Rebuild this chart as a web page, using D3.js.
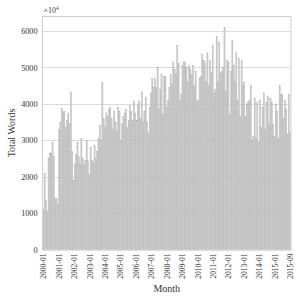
<!DOCTYPE html>
<html>
<head>
<meta charset="utf-8">
<script src="https://cdn.jsdelivr.net/npm/d3@7"></script>
<style>
  body { margin: 0; background: #fff; }
  svg { display: block; }
  text { font-family: "Liberation Serif", "DejaVu Serif", serif; }
</style>
</head>
<body>
<div id="chart"></div>
<script>
// monthly totals, in units of 10^4 words
const years = d3.range(2000, 2016);
const months = [];
years.forEach(y => d3.range(1, 13).forEach(m => {
    if (y < 2015 || m <= 9) months.push(y + "-" + String(m).padStart(2, "0"));
}));

const totals = [
    1100, 2100, 1350, 1050, 2500, 2650, 2650, 2950, 2550, 1400, 1400, 1250,
    3300, 3500, 3880, 3780, 3800, 3350, 3550, 3750, 3450, 4330, 2700, 1900,
    2350, 2600, 2950, 2550, 2350, 3050, 2500, 2300, 2450, 3000, 2450, 2050,
    2800, 2450, 2400, 2850, 2500, 2700, 3050, 3400, 3000, 4600, 3600, 3350,
    3750, 3650, 3850, 3900, 3600, 3300, 3800, 3500, 3250, 3900, 3800, 3000,
    3450, 3650, 3750, 3850, 3350, 3550, 3950, 3800, 3550, 4080, 3750, 3550,
    3950, 4080, 3600, 4330, 3500, 3800, 4170, 3500, 3200, 3900, 4300, 4700,
    4450, 4700, 4450, 5000, 3850, 4400, 4800, 3700, 4750, 4750, 3900, 4100,
    4450, 4800, 4550, 5150, 4950, 4800, 5600, 5100, 4100, 4250, 5050, 5150,
    5150, 5000, 4600, 5050, 4950, 4800, 5050, 4500, 4900, 4050, 4100, 4700,
    4750, 5350, 5200, 5150, 4600, 5400, 4500, 5200, 4850, 5600, 4300, 4400,
    5850, 4600, 5700, 4850, 4900, 5000, 6100, 4350, 5200, 5150, 3700, 4900,
    5750, 5050, 4600, 5400, 4100, 5250, 3650, 5200, 4500, 4600, 3650, 4000,
    4050, 4100, 4500, 3000, 3100, 4150, 3050, 4050, 2950, 4100, 3350, 3900,
    4300, 3300, 4050, 4200, 3450, 4150, 4050, 3450, 3100, 4000, 3800, 3050,
    4500, 4250, 4250, 3600, 4100, 3850, 3150, 4250, 3200
];

const xTickLabels = [
    "2000-01", "2001-01", "2002-01", "2003-01", "2004-01", "2005-01",
    "2006-01", "2007-01", "2008-01", "2009-01", "2010-01", "2011-01",
    "2012-01", "2013-01", "2014-01", "2015-01", "2015-09"
];
const yTicks = [0, 1000, 2000, 3000, 4000, 5000, 6000];

const width = 303, height = 297;
const margin = { top: 16.5, right: 12, bottom: 47.5, left: 42.5 };

const svg = d3.select("#chart").append("svg").attr("width", width).attr("height", height);

const x = d3.scaleBand().domain(months).range([margin.left, width - margin.right]).paddingInner(0.12).paddingOuter(0.2);
const y = d3.scaleLinear().domain([0, 6400]).range([height - margin.bottom, margin.top]);

// evenly spaced tick positions from first to last bar
const tickPos = d3.scaleLinear()
    .domain([0, xTickLabels.length - 1])
    .range([x(months[0]) + x.bandwidth() / 2, x(months[months.length - 1]) + x.bandwidth() / 2]);

// grid
svg.append("g")
    .selectAll("line")
    .data(yTicks)
    .join("line")
    .attr("x1", margin.left).attr("x2", width - margin.right)
    .attr("y1", d => Math.round(y(d)) + 0.5).attr("y2", d => Math.round(y(d)) + 0.5)
    .attr("stroke", "#dcdcdc")
    .attr("stroke-width", 1);

// bars
svg.append("g")
    .selectAll("rect")
    .data(totals)
    .join("rect")
    .attr("x", (d, i) => x(months[i]))
    .attr("y", d => y(d))
    .attr("width", x.bandwidth())
    .attr("height", d => y(0) - y(d))
    .attr("fill", "#cdcdcd")
    .attr("stroke", "#a9a9a9")
    .attr("stroke-width", 0.3);

// frame
svg.append("rect")
    .attr("x", margin.left).attr("y", margin.top)
    .attr("width", width - margin.right - margin.left)
    .attr("height", height - margin.bottom - margin.top)
    .attr("fill", "none")
    .attr("stroke", "#cfcfcf")
    .attr("stroke-width", 1);

// y axis
const yAxis = svg.append("g")
    .attr("transform", `translate(${margin.left},0)`)
    .call(d3.axisLeft(y).tickValues(yTicks).tickSize(0).tickPadding(5).tickFormat(d3.format("d")));
yAxis.select(".domain").remove();
yAxis.selectAll("text").attr("font-size", 8.2).attr("fill", "#333")
    .attr("font-family", "'Liberation Serif', serif");

// x axis
const xAxis = svg.append("g")
    .attr("transform", `translate(0,${height - margin.bottom})`)
    .call(d3.axisBottom(tickPos).tickValues(d3.range(xTickLabels.length)).tickSize(0).tickFormat(i => xTickLabels[i]));
xAxis.select(".domain").remove();
xAxis.selectAll("text")
    .attr("font-size", 7.6)
    .attr("fill", "#333")
    .attr("font-family", "'Liberation Serif', serif")
    .attr("text-anchor", "end")
    .attr("transform", "rotate(-90)")
    .attr("x", -4)
    .attr("y", 0)
    .attr("dy", "0.32em");

// multiplier
svg.append("text")
    .attr("x", margin.left + 1)
    .attr("y", margin.top - 4)
    .attr("font-size", 8)
    .attr("fill", "#444")
    .html("×10<tspan dy='-3' font-size='5.5'>4</tspan>");

// axis titles
svg.append("text")
    .attr("x", (margin.left + width - margin.right) / 2)
    .attr("y", height - 5)
    .attr("text-anchor", "middle")
    .attr("font-size", 10)
    .attr("fill", "#333")
    .text("Month");

svg.append("text")
    .attr("transform", `translate(15,${(margin.top + height - margin.bottom) / 2}) rotate(-90)`)
    .attr("text-anchor", "middle")
    .attr("font-size", 10)
    .attr("fill", "#333")
    .text("Total Words");
</script>
</body>
</html>
